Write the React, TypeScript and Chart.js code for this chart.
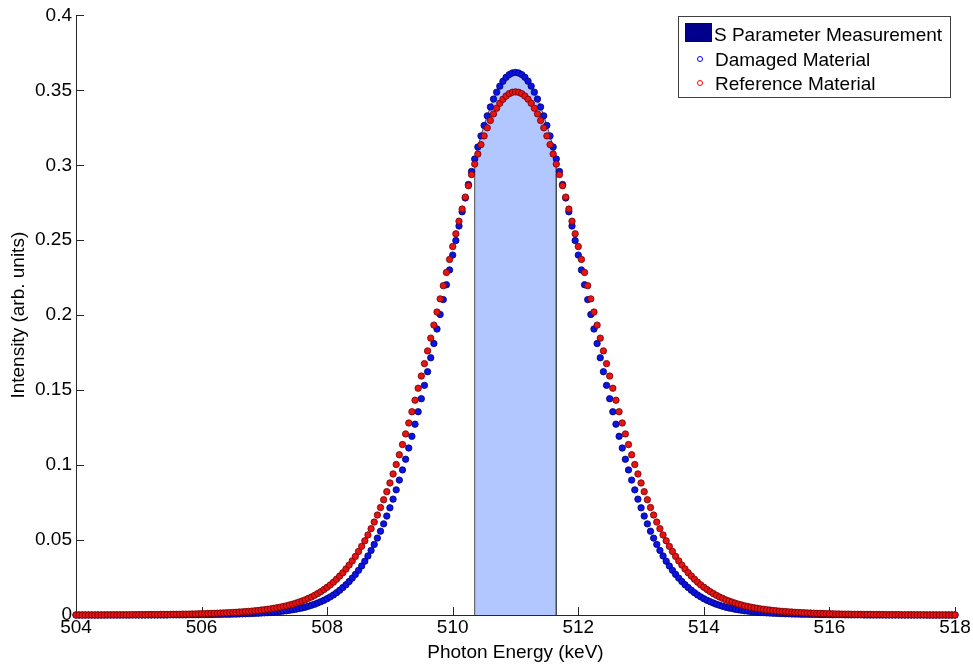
import React, { useEffect, useRef } from "react";
import { Chart, registerables } from "chart.js";

Chart.register(...registerables);

// Energy sampling grid (keV): first sample and spacing
const ENERGY_START = 504;
const ENERGY_STEP = 0.05;

const X_TICKS = [504, 506, 508, 510, 512, 514, 516, 518];
const Y_TICKS = [0, 0.05, 0.1, 0.15, 0.2, 0.25, 0.3, 0.35, 0.4];

// S parameter integration window (keV)
const S_WINDOW = [510.35, 511.65];

// Damaged material spectrum, one value per 0.05 keV from 504.00 to 518.00 (rows of 0.5 keV)
const damagedIntensity = [
  0, 0, 0, 0, 0, 0, 0, 0, 0, 0,
  0, 0, 0, 0, 0, 0, 0, 0, 0, 0,
  0, 0, 0, 0, 0, 0, 0, 0, 0, 0,
  0.0001, 0.0001, 0.0001, 0.0001, 0.0001, 0.0001, 0.0002, 0.0002, 0.0002, 0.0002,
  0.0003, 0.0003, 0.0003, 0.0003, 0.0004, 0.0004, 0.0004, 0.0005, 0.0005, 0.0005,
  0.0006, 0.0006, 0.0007, 0.0008, 0.0008, 0.0009, 0.0010, 0.0011, 0.0012, 0.0013,
  0.0014, 0.0016, 0.0017, 0.0019, 0.0021, 0.0023, 0.0026, 0.0028, 0.0031, 0.0035,
  0.0038, 0.0043, 0.0047, 0.0052, 0.0058, 0.0065, 0.0072, 0.0080, 0.0089, 0.0098,
  0.0109, 0.0121, 0.0134, 0.0149, 0.0165, 0.0183, 0.0202, 0.0223, 0.0246, 0.0271,
  0.0298, 0.0327, 0.0359, 0.0394, 0.0431, 0.0471, 0.0513, 0.0559, 0.0608, 0.0660,
  0.0715, 0.0773, 0.0835, 0.0900, 0.0968, 0.1039, 0.1114, 0.1192, 0.1273, 0.1356,
  0.1443, 0.1532, 0.1623, 0.1716, 0.1811, 0.1908, 0.2005, 0.2104, 0.2203, 0.2302,
  0.2401, 0.2498, 0.2595, 0.2690, 0.2782, 0.2872, 0.2959, 0.3042, 0.3122, 0.3196,
  0.3266, 0.3330, 0.3389, 0.3442, 0.3488, 0.3528, 0.3561, 0.3587, 0.3605, 0.3616,
  0.3620, 0.3616, 0.3605, 0.3587, 0.3561, 0.3528, 0.3488, 0.3442, 0.3389, 0.3330,
  0.3266, 0.3196, 0.3122, 0.3042, 0.2959, 0.2872, 0.2782, 0.2690, 0.2595, 0.2498,
  0.2401, 0.2302, 0.2203, 0.2104, 0.2005, 0.1908, 0.1811, 0.1716, 0.1623, 0.1532,
  0.1443, 0.1356, 0.1273, 0.1192, 0.1114, 0.1039, 0.0968, 0.0900, 0.0835, 0.0773,
  0.0715, 0.0660, 0.0608, 0.0559, 0.0513, 0.0471, 0.0431, 0.0394, 0.0359, 0.0327,
  0.0298, 0.0271, 0.0246, 0.0223, 0.0202, 0.0183, 0.0165, 0.0149, 0.0134, 0.0121,
  0.0109, 0.0098, 0.0089, 0.0080, 0.0072, 0.0065, 0.0058, 0.0052, 0.0047, 0.0043,
  0.0038, 0.0035, 0.0031, 0.0028, 0.0026, 0.0023, 0.0021, 0.0019, 0.0017, 0.0016,
  0.0014, 0.0013, 0.0012, 0.0011, 0.0010, 0.0009, 0.0008, 0.0008, 0.0007, 0.0006,
  0.0006, 0.0005, 0.0005, 0.0005, 0.0004, 0.0004, 0.0004, 0.0003, 0.0003, 0.0003,
  0.0003, 0.0002, 0.0002, 0.0002, 0.0002, 0.0001, 0.0001, 0.0001, 0.0001, 0.0001,
  0.0001, 0, 0, 0, 0, 0, 0, 0, 0, 0,
  0, 0, 0, 0, 0, 0, 0, 0, 0, 0,
  0, 0, 0, 0, 0, 0, 0, 0, 0, 0,
  0,
];

// Reference material spectrum, same energy grid
const referenceIntensity = [
  0, 0, 0, 0, 0, 0, 0, 0, 0, 0,
  0.0001, 0.0001, 0.0001, 0.0001, 0.0001, 0.0001, 0.0001, 0.0001, 0.0002, 0.0002,
  0.0002, 0.0002, 0.0002, 0.0003, 0.0003, 0.0003, 0.0003, 0.0004, 0.0004, 0.0004,
  0.0004, 0.0005, 0.0005, 0.0005, 0.0006, 0.0006, 0.0006, 0.0007, 0.0007, 0.0008,
  0.0009, 0.0009, 0.0010, 0.0011, 0.0011, 0.0012, 0.0013, 0.0014, 0.0015, 0.0016,
  0.0017, 0.0018, 0.0020, 0.0021, 0.0023, 0.0024, 0.0026, 0.0028, 0.0030, 0.0033,
  0.0035, 0.0038, 0.0041, 0.0045, 0.0048, 0.0052, 0.0057, 0.0061, 0.0067, 0.0072,
  0.0079, 0.0086, 0.0093, 0.0101, 0.0111, 0.0120, 0.0131, 0.0143, 0.0156, 0.0170,
  0.0185, 0.0201, 0.0219, 0.0239, 0.0260, 0.0282, 0.0307, 0.0333, 0.0361, 0.0391,
  0.0424, 0.0458, 0.0495, 0.0534, 0.0576, 0.0620, 0.0667, 0.0717, 0.0769, 0.0823,
  0.0881, 0.0941, 0.1004, 0.1069, 0.1137, 0.1208, 0.1281, 0.1356, 0.1433, 0.1513,
  0.1594, 0.1677, 0.1762, 0.1847, 0.1934, 0.2021, 0.2109, 0.2197, 0.2285, 0.2372,
  0.2458, 0.2543, 0.2627, 0.2708, 0.2788, 0.2864, 0.2938, 0.3008, 0.3075, 0.3138,
  0.3196, 0.3250, 0.3299, 0.3343, 0.3381, 0.3414, 0.3441, 0.3462, 0.3478, 0.3487,
  0.3490, 0.3487, 0.3478, 0.3462, 0.3441, 0.3414, 0.3381, 0.3343, 0.3299, 0.3250,
  0.3196, 0.3138, 0.3075, 0.3008, 0.2938, 0.2864, 0.2788, 0.2708, 0.2627, 0.2543,
  0.2458, 0.2372, 0.2285, 0.2197, 0.2109, 0.2021, 0.1934, 0.1847, 0.1762, 0.1677,
  0.1594, 0.1513, 0.1433, 0.1356, 0.1281, 0.1208, 0.1137, 0.1069, 0.1004, 0.0941,
  0.0881, 0.0823, 0.0769, 0.0717, 0.0667, 0.0620, 0.0576, 0.0534, 0.0495, 0.0458,
  0.0424, 0.0391, 0.0361, 0.0333, 0.0307, 0.0282, 0.0260, 0.0239, 0.0219, 0.0201,
  0.0185, 0.0170, 0.0156, 0.0143, 0.0131, 0.0120, 0.0111, 0.0101, 0.0093, 0.0086,
  0.0079, 0.0072, 0.0067, 0.0061, 0.0057, 0.0052, 0.0048, 0.0045, 0.0041, 0.0038,
  0.0035, 0.0033, 0.0030, 0.0028, 0.0026, 0.0024, 0.0023, 0.0021, 0.0020, 0.0018,
  0.0017, 0.0016, 0.0015, 0.0014, 0.0013, 0.0012, 0.0011, 0.0011, 0.0010, 0.0009,
  0.0009, 0.0008, 0.0007, 0.0007, 0.0006, 0.0006, 0.0006, 0.0005, 0.0005, 0.0005,
  0.0004, 0.0004, 0.0004, 0.0004, 0.0003, 0.0003, 0.0003, 0.0003, 0.0002, 0.0002,
  0.0002, 0.0002, 0.0002, 0.0001, 0.0001, 0.0001, 0.0001, 0.0001, 0.0001, 0.0001,
  0.0001, 0, 0, 0, 0, 0, 0, 0, 0, 0,
  0,
];

const LEGEND_LABELS = ["S Parameter Measurement", "Damaged Material", "Reference Material"];

const FONT_FAMILY = "'Liberation Sans', Arial, Helvetica, sans-serif";
const AXIS_COLOR = "#262626";
const BLUE_FILL = "#0a14e6";
const BLUE_EDGE = "#00006e";
const RED_FILL = "#e61414";
const RED_EDGE = "#6e0000";
const AREA_FILL = "rgb(178,198,255)";
const SWATCH = "#00008b";

function toPoints(values: number[]) {
  return values.map((v, i) => ({ x: +(ENERGY_START + i * ENERGY_STEP).toFixed(2), y: v }));
}

const matlabPlugin = {
  id: "matlabDecor",
  beforeDatasetsDraw(chart: any) {
    const { ctx, chartArea: a, scales } = chart;
    const x = scales.x;
    const y = scales.y;
    ctx.save();
    ctx.strokeStyle = AXIS_COLOR;
    ctx.lineWidth = 1;
    ctx.beginPath();
    X_TICKS.forEach((v) => {
      const px = Math.round(x.getPixelForValue(v)) + 0.5;
      ctx.moveTo(px, a.bottom);
      ctx.lineTo(px, a.bottom - 8);
    });
    Y_TICKS.forEach((v) => {
      const py = Math.round(y.getPixelForValue(v)) + 0.5;
      ctx.moveTo(a.left, py);
      ctx.lineTo(a.left + 8, py);
    });
    ctx.stroke();
    ctx.restore();
  },
  afterDraw(chart: any) {
    const { ctx } = chart;
    ctx.save();
    // legend box
    const bx = 678.5, by = 16.5, bw = 272, bh = 81;
    ctx.fillStyle = "#ffffff";
    ctx.fillRect(bx, by, bw, bh);
    ctx.strokeStyle = "#404040";
    ctx.lineWidth = 1;
    ctx.strokeRect(bx, by, bw, bh);
    // swatch
    ctx.fillStyle = SWATCH;
    ctx.fillRect(685, 23, 27, 19);
    // markers
    ctx.lineWidth = 1;
    ctx.strokeStyle = "#0000ff";
    ctx.beginPath();
    ctx.arc(700, 59, 2.5, 0, Math.PI * 2);
    ctx.stroke();
    ctx.strokeStyle = "#ff0000";
    ctx.beginPath();
    ctx.arc(700, 83, 2.5, 0, Math.PI * 2);
    ctx.stroke();
    // text
    ctx.fillStyle = "#000000";
    ctx.font = `19px ${FONT_FAMILY}`;
    ctx.textAlign = "left";
    ctx.textBaseline = "alphabetic";
    ctx.fillText(LEGEND_LABELS[0], 714, 41);
    ctx.fillText(LEGEND_LABELS[1], 715, 65.5);
    ctx.fillText(LEGEND_LABELS[2], 715, 90);
    ctx.restore();
  },
};

export default function App() {
  const canvasRef = useRef<HTMLCanvasElement | null>(null);

  useEffect(() => {
    const canvas = canvasRef.current;
    if (!canvas) return;

    const damagedPts = toPoints(damagedIntensity);
    const referencePts = toPoints(referenceIntensity);
    const inWindow = damagedPts.filter((p) => p.x >= S_WINDOW[0] - 1e-9 && p.x <= S_WINDOW[1] + 1e-9);
    const areaPts = [
      { x: S_WINDOW[0], y: 0 },
      ...inWindow,
      { x: S_WINDOW[1], y: 0 },
    ];

    const tickFont = { family: FONT_FAMILY, size: 19 };

    const chart = new Chart(canvas, {
      type: "scatter",
      data: {
        datasets: [
          {
            label: LEGEND_LABELS[2],
            data: referencePts,
            backgroundColor: RED_FILL,
            borderColor: RED_EDGE,
            borderWidth: 0.8,
            pointRadius: 3.2,
            showLine: false,
            order: 0,
            clip: false,
          } as any,
          {
            label: LEGEND_LABELS[1],
            data: damagedPts,
            backgroundColor: BLUE_FILL,
            borderColor: BLUE_EDGE,
            borderWidth: 0.8,
            pointRadius: 3.2,
            showLine: false,
            order: 1,
            clip: false,
          } as any,
          {
            type: "line",
            label: LEGEND_LABELS[0],
            data: areaPts,
            backgroundColor: AREA_FILL,
            borderColor: "#4a4a4a",
            borderWidth: 1,
            pointRadius: 0,
            fill: "origin",
            tension: 0,
            order: 2,
          } as any,
        ],
      },
      options: {
        animation: false,
        responsive: false,
        devicePixelRatio: 1,
        layout: { padding: { left: 0, top: 15, right: 18, bottom: 0 } },
        plugins: {
          legend: { display: false },
          tooltip: { enabled: false },
        },
        scales: {
          x: {
            type: "linear",
            min: 504,
            max: 518,
            grid: { display: false, drawTicks: false },
            border: { display: true, color: AXIS_COLOR, width: 1 },
            afterBuildTicks: (scale: any) => {
              scale.ticks = X_TICKS.map((v) => ({ value: v }));
            },
            afterFit: (scale: any) => {
              scale.height = 49;
            },
            ticks: {
              font: tickFont,
              color: "#000",
              padding: 1,
              maxRotation: 0,
              autoSkip: false,
              callback: (v: any) => String(v),
            },
            title: {
              display: true,
              text: "Photon Energy (keV)",
              font: tickFont,
              color: "#000",
              padding: { top: 4, bottom: 0 },
            },
          },
          y: {
            type: "linear",
            min: 0,
            max: 0.4,
            grid: { display: false, drawTicks: false },
            border: { display: true, color: AXIS_COLOR, width: 1 },
            afterBuildTicks: (scale: any) => {
              scale.ticks = Y_TICKS.map((v) => ({ value: v }));
            },
            afterFit: (scale: any) => {
              scale.width = 76;
            },
            ticks: {
              font: tickFont,
              color: "#000",
              padding: 4,
              autoSkip: false,
              callback: (v: any) => String(Number(Number(v).toFixed(2))),
            },
            title: {
              display: true,
              text: "Intensity (arb. units)",
              font: tickFont,
              color: "#000",
              padding: { top: 7, bottom: 0 },
            },
          },
        },
      } as any,
      plugins: [matlabPlugin],
    });

    return () => chart.destroy();
  }, []);

  return (
    <div style={{ position: "fixed", left: 0, top: 0, width: 973, height: 664, background: "#fff" }}>
      <canvas ref={canvasRef} width={973} height={664} style={{ width: 973, height: 664, display: "block" }} />
    </div>
  );
}
